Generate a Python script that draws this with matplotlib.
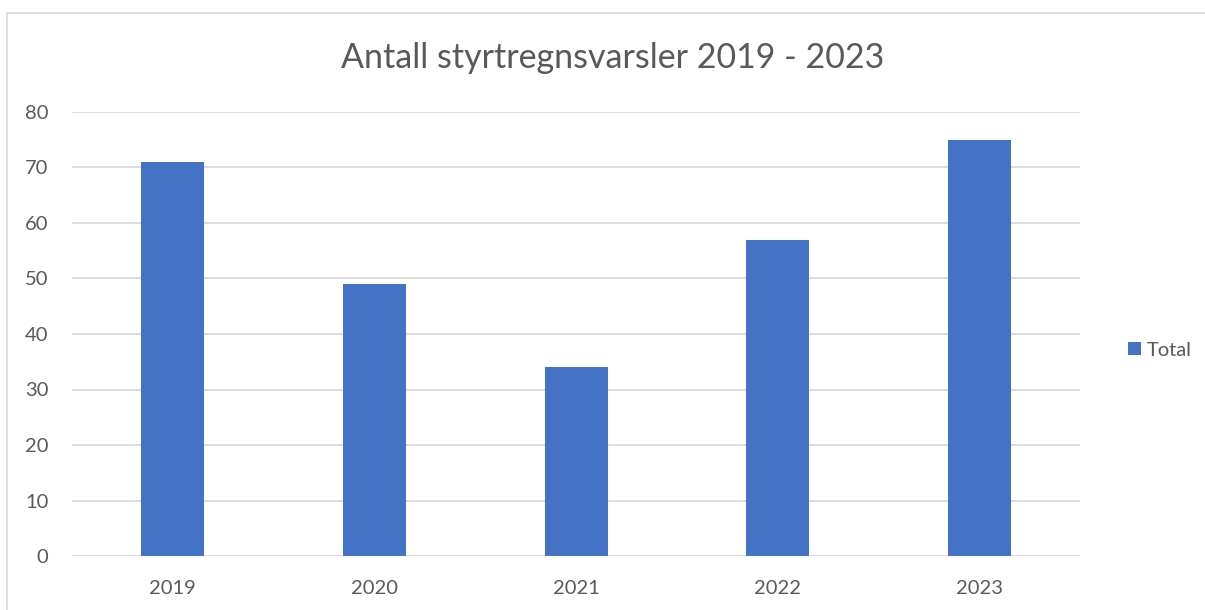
import matplotlib.pyplot as plt
from matplotlib.patches import Rectangle

years = ["2019", "2020", "2021", "2022", "2023"]
total = [71, 49, 34, 57, 75]
yticks = [0, 10, 20, 30, 40, 50, 60, 70, 80]

plt.rcParams['font.family'] = ['Lato', 'DejaVu Sans']
text_col = "#595959"

fig = plt.figure(figsize=(12.05, 6.1), dpi=100)
ax = fig.add_axes([72/1205, 1-556/610, (1080-72)/1205, (556-112)/610])

ax.bar(range(len(years)), total, width=0.3125, color="#4472C4", label="Total", zorder=3)
ax.set_xlim(-0.5, len(years)-0.5)
ax.set_ylim(0, 80)
ax.set_yticks(yticks)
ax.set_xticks(range(len(years)))
ax.set_xticklabels(years)
ax.grid(axis="y", color="#D9D9D9", linewidth=1.3, zorder=0)
for s in ax.spines.values():
    s.set_visible(False)
ax.tick_params(length=0, labelsize=14.5, colors=text_col)
ax.tick_params(axis="y", pad=17)
ax.tick_params(axis="x", pad=17)

fig.text(0.508, 1-58/610, "Antall styrtregnsvarsler 2019 - 2023", ha="center", va="center",
         fontsize=24.5, color=text_col)

fig.legend(loc="center left", bbox_to_anchor=(1118/1205, 1-350/610), frameon=False,
           fontsize=14.5, labelcolor=text_col, handlelength=0.65, handleheight=0.65,
           handletextpad=0.3, borderpad=0)

fig.patches.append(Rectangle((7.5/1205, -0.1), 1.2, 0.1 + (610-13.5)/610, transform=fig.transFigure,
                             fill=False, edgecolor="#D9D9D9", linewidth=1.2))

fig.savefig("out.png", dpi=100)
